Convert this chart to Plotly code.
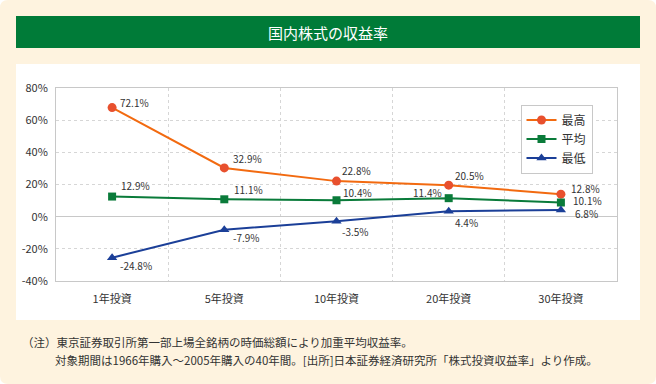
import plotly.graph_objects as go

W, H = 656, 384

categories = ["1年投資", "5年投資", "10年投資", "20年投資", "30年投資"]
series_names = ["最高", "平均", "最低"]
max_values = [67.8, 30.3, 22.1, 19.6, 14.0]
avg_values = [12.5, 10.8, 10.2, 11.5, 8.8]
min_values = [-25.5, -8.1, -2.9, 3.3, 4.2]
max_labels = ["72.1%", "32.9%", "22.8%", "20.5%", "12.8%"]
avg_labels = ["12.9%", "11.1%", "10.4%", "11.4%", "10.1%"]
min_labels = ["-24.8%", "-7.9%", "-3.5%", "4.4%", "6.8%"]
y_ticks = [-40, -20, 0, 20, 40, 60, 80]
title_text = "国内株式の収益率"
note_line1 = "（注）東京証券取引所第一部上場全銘柄の時価総額により加重平均収益率。"
note_line2 = "対象期間は1966年購入～2005年購入の40年間。[出所]日本証券経済研究所「株式投資収益率」より作成。"

# styles / offsets (screen px: dx right, dy down)
line_colors = ["#F26A10", "#0A7B3A", "#1B3F98"]
marker_colors = ["#E8502E", "#0A7B3A", "#1B3F98"]
symbols = ["circle", "square", "triangle-up"]
label_offsets = [
    [(6, -5, "left"), (7, -9, "left"), (3, -11, "left"), (4, -10, "left"), (8, -6, "left")],
    [(7, -11, "left"), (8, -10, "left"), (4, -8, "left"), (-5, -6, "right"), (10, -2, "left")],
    [(6, 8, "left"), (7, 8, "left"), (3, 10, "left"), (4, 11, "left"), (12, 4, "left")],
]

FONT = "Noto Sans CJK JP, sans-serif"

fig = go.Figure()
all_values = [max_values, avg_values, min_values]
all_labels = [max_labels, avg_labels, min_labels]
for i, name in enumerate(series_names):
    fig.add_trace(go.Scatter(
        x=categories, y=all_values[i], name=name, mode="lines+markers",
        line=dict(color=line_colors[i], width=2),
        marker=dict(symbol=symbols[i], size=9 if i != 1 else 8, color=marker_colors[i],
                    line=dict(width=0)),
        hoverinfo="skip",
    ))

annotations = []
for i in range(3):
    for j, cat in enumerate(categories):
        dx, dy, anc = label_offsets[i][j]
        annotations.append(dict(
            x=cat, y=all_values[i][j], xref="x", yref="y", text=all_labels[i][j],
            showarrow=False, xanchor=anc, yanchor="middle", xshift=dx, yshift=-dy,
            font=dict(family=FONT, size=10, color="#333333"),
        ))

annotations.append(dict(x=328 / W, y=1 - 32 / H, xref="paper", yref="paper",
                        text=title_text, showarrow=False, xanchor="center", yanchor="middle",
                        font=dict(family=FONT, size=15, color="#FFFFFF")))
annotations.append(dict(x=20 / W, y=1 - 342 / H, xref="paper", yref="paper",
                        text=note_line1, showarrow=False, xanchor="left", yanchor="middle",
                        font=dict(family=FONT, size=11.5, color="#333333")))
annotations.append(dict(x=53 / W, y=1 - 360 / H, xref="paper", yref="paper",
                        text=note_line2, showarrow=False, xanchor="left", yanchor="middle",
                        font=dict(family=FONT, size=11.5, color="#333333")))

L, R, T, B = 56, 617, 88, 281

shapes = [
    # cream rounded background
    dict(type="path", xref="paper", yref="paper", layer="below",
         path="M 0.0 {y0} L 0 {y1} Q 0 1 {rx} 1 L {x2} 1 Q 1 1 1 {y1} L 1 {y0} Q 1 0 {x2} 0 L {rx} 0 Q 0 0 0 {y0} Z".format(
             rx=8 / W, x2=1 - 8 / W, y0=8 / H, y1=1 - 8 / H),
         fillcolor="#FEF3DF", line=dict(width=0)),
    dict(type="rect", xref="paper", yref="paper", layer="below",
         x0=16 / W, x1=640 / W, y0=1 - 48 / H, y1=1 - 16 / H,
         fillcolor="#007B38", line=dict(width=0)),
    dict(type="rect", xref="paper", yref="paper", layer="below",
         x0=16 / W, x1=640 / W, y0=1 - 320 / H, y1=1 - 64 / H,
         fillcolor="#FFFFFF", line=dict(width=0)),
]

fig.update_layout(
    width=W, height=H,
    margin=dict(l=0, r=0, t=0, b=0, pad=0, autoexpand=False),
    paper_bgcolor="#FFFFFF",
    plot_bgcolor="#FFFFFF",
    font=dict(family=FONT, color="#333333"),
    shapes=shapes,
    annotations=annotations,
    showlegend=True,
    legend=dict(
        x=520.5 / W, y=1 - 104.5 / H, xanchor="left", yanchor="top",
        bgcolor="#FFFFFF", bordercolor="#C8C8C8", borderwidth=1,
        font=dict(family=FONT, size=12, color="#333333"),
        tracegroupgap=0, itemwidth=30,
    ),
    xaxis=dict(
        domain=[L / W, R / W], automargin=False,
        type="category", range=[-0.5, len(categories) - 0.5],
        showgrid=True, gridcolor="#D6D6D6", griddash="dot", gridwidth=1,
        tickson="boundaries", ticks="",
        showline=True, linecolor="#C8C8C8", linewidth=1, mirror=True,
        tickfont=dict(family=FONT, size=11, color="#333333"),
        ticklabelstandoff=8,
        zeroline=False, fixedrange=True,
    ),
    yaxis=dict(
        domain=[1 - B / H, 1 - T / H], automargin=False,
        range=[-40, 80], tickvals=y_ticks, ticktext=[f"{v}%" for v in y_ticks],
        showgrid=True, gridcolor="#D6D6D6", griddash="dot", gridwidth=1,
        zeroline=True, zerolinecolor="#C8C8C8", zerolinewidth=1,
        showline=True, linecolor="#C8C8C8", linewidth=1, mirror=True,
        ticks="", tickfont=dict(family=FONT, size=11, color="#333333"),
        ticklabelstandoff=5, fixedrange=True,
    ),
)

fig.write_html("out.html", config={"displayModeBar": False},
               post_script="document.body.style.margin='0';document.body.style.padding='0';")
